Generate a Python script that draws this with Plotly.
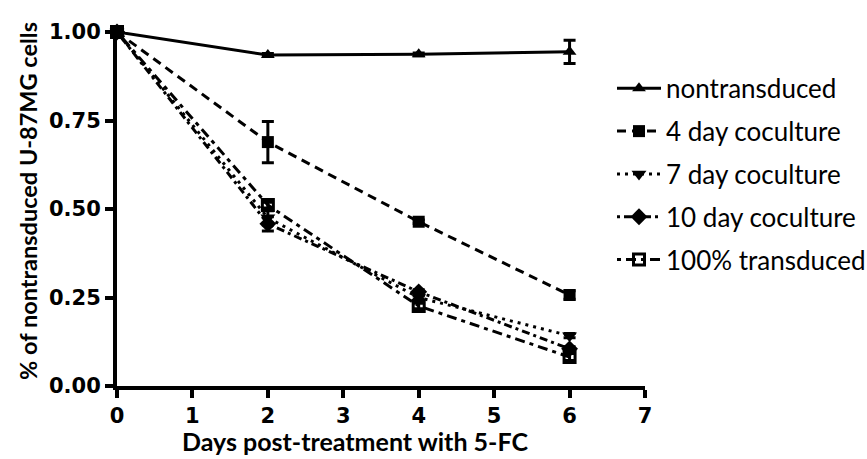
import plotly.graph_objects as go

days = [0, 2, 4, 6]
series_names = ["nontransduced", "4 day coculture", "7 day coculture", "10 day coculture", "100% transduced"]
nontransduced = [1.00, 0.935, 0.937, 0.944]
nontransduced_err = [0, 0.004, 0.004, 0.033]
coculture_4 = [1.00, 0.689, 0.464, 0.257]
coculture_4_err = [0, 0.058, 0.005, 0.012]
coculture_7 = [1.00, 0.475, 0.25, 0.142]
coculture_7_err = [0, 0.02, 0.005, 0.006]
coculture_10 = [1.00, 0.458, 0.266, 0.105]
coculture_10_err = [0, 0.02, 0.006, 0.006]
transduced_100 = [1.00, 0.511, 0.226, 0.082]
transduced_100_err = [0, 0.008, 0.008, 0.01]
x_ticks = [0, 1, 2, 3, 4, 5, 6, 7]
y_ticks = [0.0, 0.25, 0.5, 0.75, 1.0]
x_title = "Days post-treatment with 5-FC"
y_title = "% of nontransduced U-87MG cells"

values = [nontransduced, coculture_4, coculture_7, coculture_10, transduced_100]
errors = [nontransduced_err, coculture_4_err, coculture_7_err, coculture_10_err, transduced_100_err]
symbols = ["triangle-up", "square", "triangle-down", "diamond", "square-open"]
dashes = ["solid", "9px,6px", "3px,5px", "3px,4px,8px,4px", "4px,5px,10px,5px"]
sizes = [12, 12, 13, 13, 11]

fig = go.Figure()
for i, name in enumerate(series_names):
    fig.add_trace(go.Scatter(
        x=days, y=values[i], name=name, mode="lines+markers",
        line=dict(color="black", width=3, dash=dashes[i]),
        marker=dict(symbol=symbols[i], size=sizes[i], color="black",
                    line=dict(color="black", width=3 if symbols[i].endswith("open") else 0)),
        error_y=dict(type="data", array=errors[i], visible=True, color="black", thickness=3, width=6),
        cliponaxis=False, legendgroup=f"g{i}",
    ))

font_axis = "DejaVu Sans, sans-serif"
font_text = "Lato, Calibri, Carlito, sans-serif"

fig.update_layout(
    width=867, height=459,
    margin=dict(l=117, r=222, t=32, b=73, autoexpand=False),
    plot_bgcolor="white", paper_bgcolor="white",
    showlegend=True,
    legend=dict(x=0.9375, y=0.907, xanchor="left", yanchor="top", itemwidth=44,
                font=dict(family=font_text, size=26, color="black"),
                tracegroupgap=6, bgcolor="rgba(0,0,0,0)", borderwidth=0),
    xaxis=dict(range=[0, 7], tickvals=x_ticks, showline=True, linewidth=4, linecolor="black",
               ticks="outside", ticklen=8, tickwidth=4, tickcolor="black", showgrid=False, zeroline=False,
               tickfont=dict(family=font_axis, size=21, color="black", weight="bold")),
    yaxis=dict(range=[0, 1.0], tickvals=y_ticks, tickformat=".2f", showline=True, linewidth=4, linecolor="black",
               ticks="outside", ticklen=8, tickwidth=4, tickcolor="black", showgrid=False, zeroline=False,
               tickfont=dict(family=font_axis, size=21, color="black", weight="bold")),
    annotations=[
        dict(text=x_title, xref="paper", yref="paper", x=0.4508, y=-0.155, xanchor="center", yanchor="middle",
             showarrow=False, font=dict(family=font_text, size=25, color="black", weight="bold")),
        dict(text=y_title, xref="paper", yref="paper", x=-0.1686, y=0.5226, xanchor="center", yanchor="middle",
             textangle=-90, showarrow=False, font=dict(family=font_text, size=23.5, color="black", weight="bold")),
    ],
)

fig.write_html("out.html")
